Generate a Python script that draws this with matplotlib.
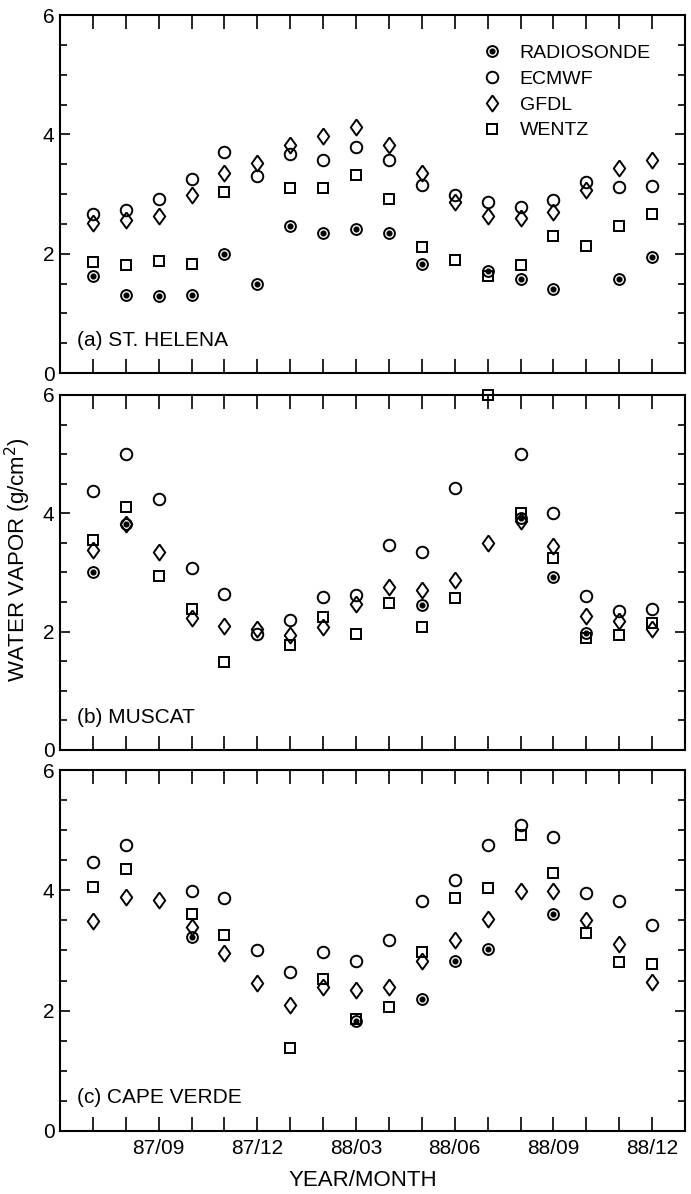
import numpy as np
import matplotlib
matplotlib.use("Agg")
import matplotlib.pyplot as plt
from matplotlib.ticker import MultipleLocator

plt.rcParams["font.family"] = ["Liberation Sans", "DejaVu Sans"]

nan = np.nan

months = ["87/07", "87/08", "87/09", "87/10", "87/11", "87/12",
          "88/01", "88/02", "88/03", "88/04", "88/05", "88/06",
          "88/07", "88/08", "88/09", "88/10", "88/11", "88/12"]
labeled_months = ["87/09", "87/12", "88/03", "88/06", "88/09", "88/12"]

stations = ["(a) ST. HELENA", "(b) MUSCAT", "(c) CAPE VERDE"]
series_names = ["RADIOSONDE", "ECMWF", "GFDL", "WENTZ"]

# (a) St. Helena
helena_radiosonde = [1.62, 1.30, 1.29, 1.30, 1.99, 1.50, 2.47, 2.34, 2.42, 2.35,
                     1.83, nan, 1.71, 1.57, 1.40, nan, 1.57, 1.94]
helena_ecmwf = [2.67, 2.74, 2.91, 3.26, 3.71, 3.30, 3.67, 3.57, 3.78, 3.57,
                3.15, 2.98, 2.87, 2.79, 2.90, 3.20, 3.11, 3.13]
helena_gfdl = [2.52, 2.56, 2.63, 2.98, 3.36, 3.52, 3.82, 3.97, 4.13, 3.82,
               3.36, 2.87, 2.63, 2.59, 2.70, 3.06, 3.43, 3.57]
helena_wentz = [1.86, 1.81, 1.88, 1.82, 3.04, nan, 3.10, 3.10, 3.32, 2.91,
                2.11, 1.90, 1.62, 1.81, 2.29, 2.13, 2.46, 2.66]

# (b) Muscat
muscat_radiosonde = [3.00, 3.82, nan, nan, nan, nan, nan, nan, nan, nan,
                     2.45, nan, nan, 3.92, 2.93, 1.97, nan, nan]
muscat_ecmwf = [4.38, 5.00, 4.25, 3.07, 2.64, 1.96, 2.20, 2.58, 2.62, 3.46,
                3.34, 4.42, nan, 5.00, 4.01, 2.60, 2.35, 2.38]
muscat_gfdl = [3.38, 3.82, 3.34, 2.23, 2.10, 2.04, 1.94, 2.08, 2.47, 2.76,
               2.70, 2.88, 3.49, 3.87, 3.45, 2.26, 2.18, 2.04]
muscat_wentz = [3.55, 4.10, 2.94, 2.38, 1.49, nan, 1.77, 2.24, 1.96, 2.49,
                2.08, 2.56, 6.00, 4.00, 3.24, 1.89, 1.94, 2.15]

# (c) Cape Verde
verde_radiosonde = [nan, nan, nan, 3.23, nan, nan, nan, nan, 1.82, nan,
                    2.19, 2.83, 3.03, nan, 3.61, nan, nan, nan]
verde_ecmwf = [4.47, 4.75, nan, 3.99, 3.88, 3.01, 2.64, 2.97, 2.83, 3.17,
               3.82, 4.17, 4.75, 5.08, 4.88, 3.96, 3.82, 3.42]
verde_gfdl = [3.49, 3.89, 3.84, 3.39, 2.96, 2.46, 2.09, 2.39, 2.34, 2.40,
              2.82, 3.17, 3.53, 3.99, 3.99, 3.50, 3.11, 2.47]
verde_wentz = [4.06, 4.36, nan, 3.60, 3.25, nan, 1.38, 2.53, 1.86, 2.06,
               2.97, 3.88, 4.04, 4.92, 4.29, 3.29, 2.81, 2.77]

panels = [
    (helena_radiosonde, helena_ecmwf, helena_gfdl, helena_wentz),
    (muscat_radiosonde, muscat_ecmwf, muscat_gfdl, muscat_wentz),
    (verde_radiosonde, verde_ecmwf, verde_gfdl, verde_wentz),
]

diamond = [(0, 1), (0.72, 0), (0, -1), (-0.72, 0), (0, 1)]
mk = dict(linestyle="none", color="black", mfc="none", mew=1.4, clip_on=False)

fig = plt.figure(figsize=(6.91, 11.94), dpi=100)
# [left, bottom, width, height] in figure fraction
rects = [
    [0.0868, 0.6876, 0.9045, 0.2998],
    [0.0868, 0.3719, 0.9045, 0.2973],
    [0.0868, 0.0528, 0.9045, 0.3023],
]

x = np.arange(len(months))

for i, (rect, data, station) in enumerate(zip(rects, panels, stations)):
    ax = fig.add_axes(rect)
    rad, ecm, gfd, wen = (np.asarray(d, dtype=float) for d in data)

    h_rad_o, = ax.plot(x, rad, marker="o", ms=7.8, **mk)
    h_rad_d, = ax.plot(x, rad, marker="o", ms=3.4, linestyle="none",
                       color="black", clip_on=False)
    h_ecm, = ax.plot(x, ecm, marker="o", ms=8.3, **mk)
    h_gfd, = ax.plot(x, gfd, marker=diamond, ms=11.5, **mk)
    h_wen, = ax.plot(x, wen, marker="s", ms=7.8, **mk)

    ax.set_xlim(-1, 18)
    ax.set_ylim(0, 6)
    ax.set_xticks(x)
    if i == 2:
        ax.set_xticklabels([m if m in labeled_months else "" for m in months])
    else:
        ax.set_xticklabels([])
    ax.yaxis.set_major_locator(MultipleLocator(2))
    ax.yaxis.set_minor_locator(MultipleLocator(0.5))

    ax.tick_params(axis="x", which="major", direction="in", length=10,
                   width=1.2, top=True, bottom=True, labelsize=15, pad=6)
    ax.tick_params(axis="y", which="major", direction="in", length=7,
                   width=1.2, left=True, right=True, labelsize=15, pad=4)
    ax.tick_params(axis="y", which="minor", direction="in", length=5,
                   width=1.2, left=True, right=True)
    for s in ax.spines.values():
        s.set_linewidth(1.5)

    ax.text(0.027, 0.092, station, transform=ax.transAxes, fontsize=15,
            ha="left", va="center")

    if i == 0:
        ax.legend([(h_rad_o, h_rad_d), h_ecm, h_gfd, h_wen], series_names,
                  loc="upper left", bbox_to_anchor=(0.675, 0.918),
                  frameon=False, fontsize=14, handlelength=1.0,
                  handletextpad=0.95, labelspacing=0.42, borderpad=0,
                  borderaxespad=0)

fig.text(0.026, 1 - 560 / 1194, "WATER VAPOR (g/cm$^2$)", rotation=90,
         ha="center", va="center", fontsize=16)
fig.text(0.525, 1 - 1180 / 1194, "YEAR/MONTH", ha="center", va="center",
         fontsize=16)

fig.savefig("out.png", dpi=100, facecolor="white")
